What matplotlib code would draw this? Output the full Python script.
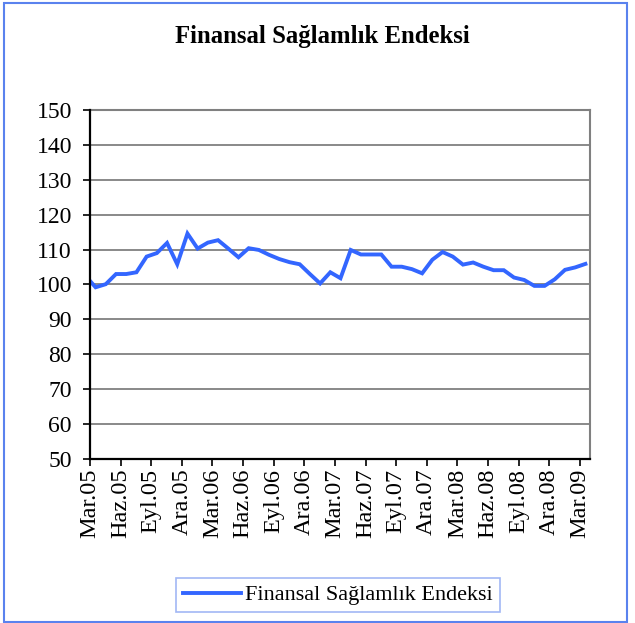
import numpy as np
import matplotlib
matplotlib.use('Agg')
import matplotlib.pyplot as plt
from matplotlib.patches import Rectangle

plt.rcParams['font.family'] = ['Liberation Serif', 'DejaVu Serif']

# Monthly index values, Mar.05 .. Apr.09
index_values = [
    102.5, 99.2, 100.1, 103.0, 103.0, 103.5, 108.0, 109.0, 111.9, 105.8,
    114.6, 110.3, 112.0, 112.7, 110.3, 107.8, 110.4, 109.9, 108.5, 107.3,
    106.4, 105.8, 103.0, 100.3, 103.5, 101.8, 109.9, 108.6, 108.6, 108.6,
    105.1, 105.1, 104.4, 103.2, 107.1, 109.3, 108.0, 105.7, 106.3, 105.1,
    104.1, 104.1, 102.0, 101.3, 99.6, 99.6, 101.5, 104.2, 104.9, 105.9,
]
quarter_labels = ['Mar.05', 'Haz.05', 'Eyl.05', 'Ara.05', 'Mar.06', 'Haz.06',
                  'Eyl.06', 'Ara.06', 'Mar.07', 'Haz.07', 'Eyl.07', 'Ara.07',
                  'Mar.08', 'Haz.08', 'Eyl.08', 'Ara.08', 'Mar.09']
y_ticks = [50, 60, 70, 80, 90, 100, 110, 120, 130, 140, 150]
series_name = 'Finansal Sağlamlık Endeksi'

W, H = 635, 623
fig = plt.figure(figsize=(W / 100, H / 100), dpi=100)
ax = fig.add_axes([90 / W, 1 - 459 / H, 500 / W, 349 / H])

# months are plotted slightly before their tick mark
months = np.arange(len(index_values)) - 0.45
line, = ax.plot(months, index_values, color='#3366FF', linewidth=2.8,
                solid_joinstyle='miter', label=series_name, zorder=3)

ax.set_xlim(0, len(index_values) - 1)
ax.set_ylim(50, 150)
ax.set_xticks(np.arange(0, 3 * len(quarter_labels), 3))
ax.set_xticklabels(quarter_labels, rotation=90, fontsize=17.5)
ax.set_yticks(y_ticks)
ax.set_yticklabels([str(v) for v in y_ticks], fontsize=17)
ax.tick_params(axis='both', direction='out', length=5, width=1.2, color='black')
ax.tick_params(axis='y', pad=8)
ax.tick_params(axis='x', pad=2)

ax.grid(True, axis='y', color='#808080', linewidth=1.3, zorder=1)
ax.set_axisbelow(True)
for side in ['left', 'bottom']:
    ax.spines[side].set_color('black')
    ax.spines[side].set_linewidth(1.6)
    ax.spines[side].set_zorder(4)
for side in ['top', 'right']:
    ax.spines[side].set_color('#808080')
    ax.spines[side].set_linewidth(1.5)

fig.text(322 / W, 1 - 36 / H, series_name, ha='center', va='center',
         fontsize=17.8, fontweight='bold')

leg = fig.legend(handles=[line], loc='center', bbox_to_anchor=(338 / W, 1 - 595 / H),
                 fontsize=16, frameon=True, fancybox=False, handlelength=2.6,
                 handletextpad=0.2, borderpad=0.3, borderaxespad=0)
leg.get_frame().set_edgecolor('#8aa6f2')
leg.get_frame().set_linewidth(1.2)

# outer chart border
fig.patches.append(Rectangle((4 / W, 1 / H), 623 / W, 619 / H, transform=fig.transFigure,
                             fill=False, edgecolor='#5a82ee', linewidth=1.5))

fig.savefig('out.png', dpi=100)
